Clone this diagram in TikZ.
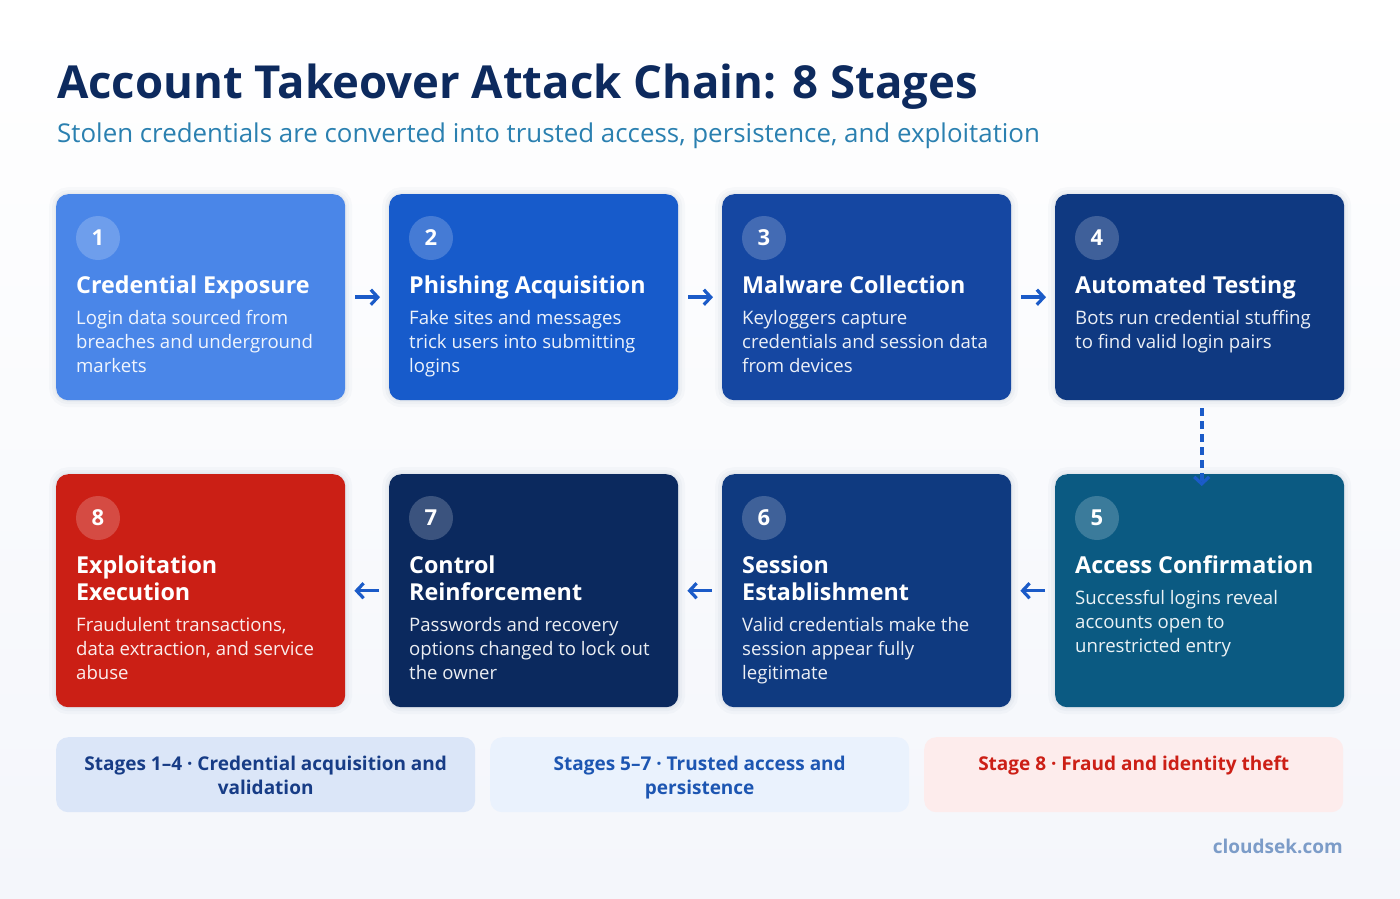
\documentclass[tikz,border=0pt]{standalone}
\usepackage{fontspec}
\setmainfont{Open Sans}
\usetikzlibrary{arrows.meta,calc}
\definecolor{bgb}{HTML}{F4F6FB}
\definecolor{ttl}{HTML}{0D2A5E}
\definecolor{sub}{HTML}{2A80B0}
\definecolor{cA}{HTML}{4A86E8}
\definecolor{cB}{HTML}{175BCB}
\definecolor{cC}{HTML}{1547A2}
\definecolor{cD}{HTML}{0F3981}
\definecolor{cE}{HTML}{0B5A82}
\definecolor{cF}{HTML}{0F3A80}
\definecolor{cG}{HTML}{0B295E}
\definecolor{cH}{HTML}{CB1F15}
\definecolor{arrc}{HTML}{1B5BC8}
\definecolor{bandA}{HTML}{DBE6F8}
\definecolor{bandB}{HTML}{EAF2FD}
\definecolor{bandC}{HTML}{FDECEC}
\definecolor{bandAt}{HTML}{173C86}
\definecolor{bandBt}{HTML}{1D56B2}
\definecolor{bandCt}{HTML}{CC1F16}
\definecolor{foot}{HTML}{7C9CC8}
\definecolor{shd}{HTML}{1E3A6E}
\tikzset{
  card/.style={rounded corners=12pt, minimum width=289pt, inner sep=0pt, anchor=north west,
    preaction={draw=shd, draw opacity=0.025, line width=14pt},
    preaction={draw=shd, draw opacity=0.03, line width=8pt},
    preaction={draw=shd, draw opacity=0.04, line width=3pt}},
  numc/.style={circle, fill=white, fill opacity=0.2, text opacity=1, minimum size=44pt, inner sep=0pt,
    text=white, font=\fontsize{22}{26}\selectfont\bfseries},
  ctitle/.style={anchor=base west, inner sep=0pt, text=white, align=left,
    font=\fontsize{23.3}{27}\selectfont\bfseries},
  cdesc/.style={anchor=base west, inner sep=0pt, text=white, text opacity=0.92, align=left,
    font=\fontsize{18.6}{24}\selectfont},
  harr/.style={draw=arrc, line width=3.5pt, -{Straight Barb[length=7pt, width=15pt, line width=3.2pt]}},
  varr/.style={draw=arrc, line width=4pt, dash pattern=on 8pt off 5pt, -{Straight Barb[length=7pt, width=15pt, line width=3.2pt]}},
  band/.style={rounded corners=12pt, minimum width=419pt, minimum height=75pt, inner sep=0pt, anchor=north west},
  bandtxt/.style={anchor=base, inner sep=0pt, align=center, font=\fontsize{19}{24}\selectfont\bfseries}
}
\begin{document}
\begin{tikzpicture}[x=1pt,y=-1pt]
\useasboundingbox (0,0) rectangle (1400,898);
\shade[top color=white, bottom color=bgb] (0,0) rectangle (1400,898);

\node[anchor=base west, inner sep=0pt, text=ttl, font=\fontsize{45.5}{54}\selectfont\bfseries] (title) at (57,98) {Account Takeover Attack Chain: 8 Stages};
\node[anchor=base west, inner sep=0pt, text=sub, font=\fontsize{25.9}{30}\selectfont] (subtitle) at (57,142) {Stolen credentials are converted into trusted access, persistence, and exploitation};

% row 1
\node[card, fill=cA, minimum height=206pt] (c1) at (56,194) {};
\node[card, fill=cB, minimum height=206pt] (c2) at (389,194) {};
\node[card, fill=cC, minimum height=206pt] (c3) at (722,194) {};
\node[card, fill=cD, minimum height=206pt] (c4) at (1055,194) {};
% row 2
\node[card, fill=cH, minimum height=233pt] (c8) at (56,474) {};
\node[card, fill=cG, minimum height=233pt] (c7) at (389,474) {};
\node[card, fill=cF, minimum height=233pt] (c6) at (722,474) {};
\node[card, fill=cE, minimum height=233pt] (c5) at (1055,474) {};

% numbers
\node[numc] (n1) at (98,238) {1};
\node[numc] (n2) at (431,238) {2};
\node[numc] (n3) at (764,238) {3};
\node[numc] (n4) at (1097,238) {4};
\node[numc] (n8) at (98,518) {8};
\node[numc] (n7) at (431,518) {7};
\node[numc] (n6) at (764,518) {6};
\node[numc] (n5) at (1097,518) {5};

% titles (base anchor = last line baseline)
\node[ctitle] (t1) at (76,293) {Credential Exposure};
\node[ctitle] (t2) at (409,293) {Phishing Acquisition};
\node[ctitle] (t3) at (742,293) {Malware Collection};
\node[ctitle] (t4) at (1075,293) {Automated Testing};
\node[ctitle] (t8) at (76,600) {Exploitation\\Execution};
\node[ctitle] (t7) at (409,600) {Control\\Reinforcement};
\node[ctitle] (t6) at (742,600) {Session\\Establishment};
\node[ctitle] (t5) at (1075,573) {Access Confirmation};

% descriptions (base anchor = last line baseline)
\node[cdesc] (d1) at (76,372) {Login data sourced from\\breaches and underground\\markets};
\node[cdesc] (d2) at (409,372) {Fake sites and messages\\trick users into submitting\\logins};
\node[cdesc] (d3) at (742,372) {Keyloggers capture\\credentials and session data\\from devices};
\node[cdesc] (d4) at (1075,348) {Bots run credential stuffing\\to find valid login pairs};
\node[cdesc] (d8) at (76,679) {Fraudulent transactions,\\data extraction, and service\\abuse};
\node[cdesc] (d7) at (409,679) {Passwords and recovery\\options changed to lock out\\the owner};
\node[cdesc] (d6) at (742,679) {Valid credentials make the\\session appear fully\\legitimate};
\node[cdesc] (d5) at (1075,652) {Successful logins reveal\\accounts open to\\unrestricted entry};

% arrows
\draw[harr, shorten <=10pt, shorten >=9pt] (c1.east) -- (c2.west);
\draw[harr, shorten <=10pt, shorten >=9pt] (c2.east) -- (c3.west);
\draw[harr, shorten <=10pt, shorten >=9pt] (c3.east) -- (c4.west);
\draw[harr, shorten <=10pt, shorten >=9pt] (c5.west) -- (c6.east);
\draw[harr, shorten <=10pt, shorten >=9pt] (c6.west) -- (c7.east);
\draw[harr, shorten <=10pt, shorten >=9pt] (c7.west) -- (c8.east);
\draw[varr, shorten <=8pt, shorten >=-12pt] ([xshift=2pt]c4.south) -- ([xshift=2pt]c5.north);

% bands
\node[band, fill=bandA] (b1) at (56,737) {};
\node[band, fill=bandB] (b2) at (490,737) {};
\node[band, fill=bandC] (b3) at (924,737) {};
\node[bandtxt, text=bandAt] (bt1) at ([yshift=-57pt]b1.north) {Stages 1–4 · Credential acquisition and\\validation};
\node[bandtxt, text=bandBt] (bt2) at ([yshift=-57pt]b2.north) {Stages 5–7 · Trusted access and\\persistence};
\node[bandtxt, text=bandCt] (bt3) at ([yshift=-33pt]b3.north) {Stage 8 · Fraud and identity theft};

\node[anchor=base east, inner sep=0pt, text=foot, font=\fontsize{19}{24}\selectfont\bfseries] (footer) at (1343,853) {cloudsek.com};
\end{tikzpicture}
\end{document}
